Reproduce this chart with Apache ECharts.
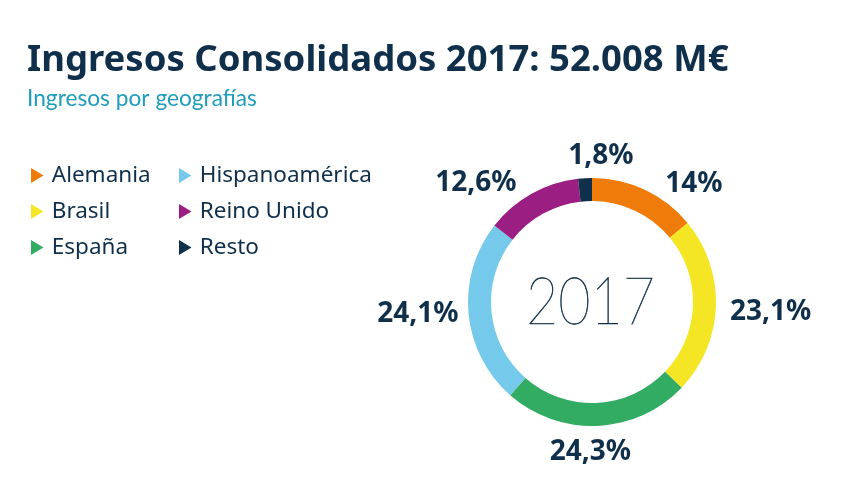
<!DOCTYPE html>
<html>
<head>
<meta charset="utf-8">
<style>
  html, body { margin: 0; padding: 0; background: #fff; }
  #chart { width: 857px; height: 480px; }
</style>
<script src="https://cdn.jsdelivr.net/npm/echarts@6/dist/echarts.min.js"></script>
</head>
<body>
<div id="chart"></div>
<script>
const categories = ["Alemania", "Brasil", "España", "Hispanoamérica", "Reino Unido", "Resto"];
const values = [14, 23.1, 24.3, 24.1, 12.6, 1.8];
const valueLabels = ["14%", "23,1%", "24,3%", "24,1%", "12,6%", "1,8%"];
const colors = ["#ee7b0a", "#f5e625", "#32ab63", "#75c9ea", "#9b1f82", "#0f2f4a"];
const legendLeft = categories.slice(0, 3);
const legendRight = categories.slice(3);

const dark = "#0f2f4a";
const triangle = "path://M0,0 L10,6 L0,12 Z";
// nudges for the pie labels, the default outside spot is too tight to the ring
const labelNudge = [[12, 1], [1, 5], [-53, 18], [-2, 0], [9, -17], [54, -14]];

function legendAt(names, left) {
  return {
    data: names,
    orient: "vertical",
    left: left,
    top: 159,
    itemWidth: 13,
    itemHeight: 15,
    itemGap: 13,
    icon: triangle,
    selectedMode: false,
    textStyle: {
      fontFamily: "Noto Sans",
      fontSize: 22.5,
      color: dark,
      padding: [0, 0, 0, 3]
    }
  };
}

let myChart = echarts.init(document.getElementById("chart"), null, { renderer: "canvas" });
let option = {
  backgroundColor: "#fff",
  animation: false,
  color: colors,
  title: [
    {
      text: "Ingresos Consolidados 2017: 52.008 M€",
      left: 27,
      top: 42,
      padding: 0,
      textStyle: { fontFamily: "Noto Sans", fontWeight: "bold", fontSize: 36.5, color: dark }
    },
    {
      text: "Ingresos por geografías",
      left: 27,
      top: 87,
      padding: 0,
      textStyle: { fontFamily: "Lato", fontWeight: "normal", fontSize: 22.7, color: "#1f9dbb" }
    }
  ],
  graphic: [
    {
      type: "text",
      x: 590.5,
      y: 302,
      scaleX: 0.83,
      silent: true,
      style: {
        text: "2017",
        fontFamily: "Lato",
        fontWeight: 100,
        fontSize: 67,
        fill: dark,
        stroke: dark,
        lineWidth: 0.6,
        textAlign: "center",
        textVerticalAlign: "middle"
      }
    }
  ],
  legend: [legendAt(legendLeft, 26), legendAt(legendRight, 174)],
  series: [
    {
      type: "pie",
      center: [592, 302],
      radius: [101, 124],
      startAngle: 90,
      clockwise: true,
      silent: true,
      data: categories.map((name, i) => ({ name: name, value: values[i] })),
      label: {
        show: true,
        position: "outside",
        formatter: (p) => valueLabels[p.dataIndex],
        fontFamily: "Noto Sans",
        fontWeight: "bold",
        fontSize: 28,
        color: dark
      },
      labelLine: { show: false, length: 8, length2: 0 },
      labelLayout: (p) => ({ dx: labelNudge[p.dataIndex][0], dy: labelNudge[p.dataIndex][1] })
    }
  ]
};
myChart.setOption(option);
</script>
</body>
</html>
